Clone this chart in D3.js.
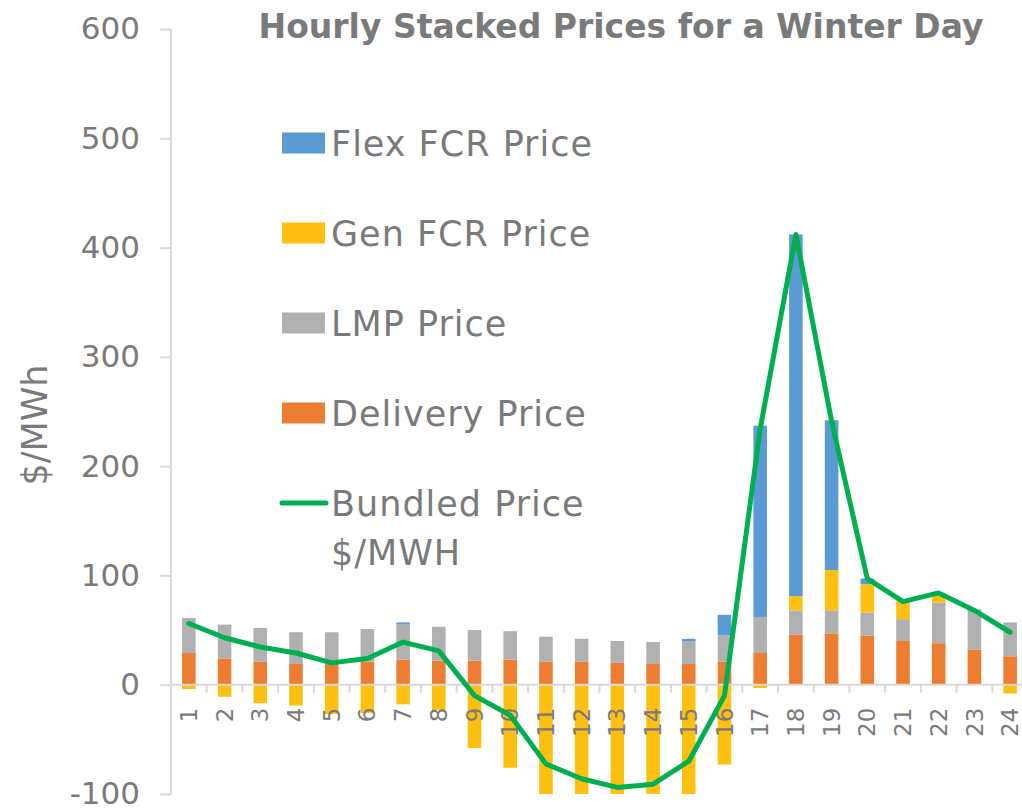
<!DOCTYPE html>
<html>
<head>
    <script src="https://d3js.org/d3.v7.min.js" charset="utf-8"></script>
    <style type="text/css">
        body { margin: 0; background: #fff; }
        text { font-family: "DejaVu Sans", sans-serif; fill: #7a7a7a; }
        .axis path, .axis line { stroke: #d9d9d9; stroke-width: 2px; }
    </style>
</head>
<body>

<svg height="810" width="1022"></svg>

<script>
    // hours of the day
    var hours = ["1","2","3","4","5","6","7","8","9","10","11","12","13","14","15","16","17","18","19","20","21","22","23","24"];

    var delivery = [29,24,21,19,19,21,23,22,22,23,21,21,20,19,19,21,29,46,47,45,40,38,32,26];
    var lmp      = [32,31,31,29,29,30,32,31,28,26,23,21,20,20,21,24,33,22,21,21,20,37,37,31];
    var genFcr   = [-4,-11,-17,-19,-27,-26,-18,-23,-58,-76,-117,-127,-134,-130,-112,-73,-3,13,37,26,17,8,0,-8];
    var flexFcr  = [0,0,0,0,0,0,2,0,0,0,0,0,0,0,2,19,175,331,137,5,0,0,0,0];
    var bundled  = [56,43,34.5,29,20,24,39,31,-10,-28,-72.5,-86,-94,-91,-70,-10,234,412,241,97,76,84,68,48];

    var yTicks = [-100,0,100,200,300,400,500,600];

    var keys = ["delivery","lmp","gen","flex"];
    var colors = {delivery:"#ed7d31", lmp:"#b0b0b0", gen:"#fdc010", flex:"#5b9bd5"};

    var rows = hours.map(function(h, i) {
        return {hour: h, delivery: delivery[i], lmp: lmp[i], gen: genFcr[i], flex: flexFcr[i]};
    });

    var svg = d3.select("svg");

    var x = d3.scaleBand()
        .domain(hours)
        .range([171, 1028])
        .paddingInner(0.62)
        .paddingOuter(0.31);

    var y = d3.scaleLinear()
        .domain([-100, 600])
        .range([794, 29]);

    svg.append("defs").append("clipPath").attr("id", "plot")
        .append("rect")
        .attr("x", 171).attr("y", y(600))
        .attr("width", 900).attr("height", y(-100) - y(600));

    // y axis
    var yAxis = svg.append("g")
        .attr("class", "axis")
        .attr("transform", "translate(171,0)")
        .call(d3.axisLeft(y).tickValues(yTicks).tickSize(11).tickPadding(20)
            .tickFormat(function(d) { return String(d); }));
    yAxis.select(".domain").attr("d", "M0," + y(600) + "V" + y(-100));
    yAxis.selectAll("text").style("font-size", "31px").attr("fill", "#808080");

    svg.append("text")
        .attr("transform", "translate(47,425) rotate(-90)")
        .attr("text-anchor", "middle")
        .style("font-size", "35px")
        .text("$/MWh");

    // stacked bars
    var series = d3.stack().keys(keys).offset(d3.stackOffsetDiverging)(rows);

    var barsG = svg.append("g").attr("clip-path", "url(#plot)");
    barsG.selectAll("g")
        .data(series)
        .enter()
        .append("g")
        .attr("fill", function(s) { return colors[s.key]; })
        .selectAll("rect")
        .data(function(s) { return s; })
        .enter()
        .append("rect")
        .attr("x", function(d) { return x(d.data.hour); })
        .attr("width", x.bandwidth())
        .attr("y", function(d) { return y(Math.max(d[0], d[1])); })
        .attr("height", function(d) { return Math.abs(y(d[0]) - y(d[1])); });

    // x axis at zero
    var xAxis = svg.append("g")
        .attr("class", "axis")
        .attr("transform", "translate(0," + y(0) + ")")
        .call(d3.axisBottom(x).tickSize(0).tickPadding(0));
    xAxis.select(".domain").attr("d", "M171,0H1022");
    xAxis.selectAll(".tick text")
        .attr("y", 0).attr("dy", "0.35em")
        .attr("transform", "translate(0,23) rotate(-90)")
        .attr("text-anchor", "end")
        .attr("fill", "#808080")
        .style("font-size", "23px");

    var step = x.step();
    xAxis.selectAll(".bnd")
        .data(hours)
        .enter()
        .append("line")
        .attr("x1", function(d) { return x(d) + x.bandwidth() / 2 + step / 2; })
        .attr("x2", function(d) { return x(d) + x.bandwidth() / 2 + step / 2; })
        .attr("y1", 0).attr("y2", 8)
        .attr("stroke", "#d9d9d9").attr("stroke-width", 2);

    // bundled price line
    var line = d3.line()
        .x(function(d, i) { return x(hours[i]) + x.bandwidth() / 2; })
        .y(function(d) { return y(d); });

    svg.append("path")
        .datum(bundled)
        .attr("fill", "none")
        .attr("stroke", "#00b050")
        .attr("stroke-width", 5)
        .attr("stroke-linejoin", "round")
        .attr("stroke-linecap", "round")
        .attr("d", line);

    // title
    svg.append("text")
        .attr("x", 621).attr("y", 38)
        .attr("text-anchor", "middle")
        .style("font-size", "33px")
        .style("font-weight", "bold")
        .text("Hourly Stacked Prices for a Winter Day");

    // legend
    var legendItems = [
        {label: "Flex FCR Price", color: colors.flex, cy: 143},
        {label: "Gen FCR Price", color: colors.gen, cy: 233},
        {label: "LMP Price", color: colors.lmp, cy: 323},
        {label: "Delivery Price", color: colors.delivery, cy: 413}
    ];
    var lg = svg.append("g").style("font-size", "35px").style("letter-spacing", "1px");
    legendItems.forEach(function(it) {
        lg.append("rect")
            .attr("x", 282).attr("y", it.cy - 10.5)
            .attr("width", 43).attr("height", 21)
            .attr("fill", it.color);
        lg.append("text")
            .attr("x", 331).attr("y", it.cy + 13)
            .text(it.label);
    });
    lg.append("line")
        .attr("x1", 282).attr("x2", 326)
        .attr("y1", 503).attr("y2", 503)
        .attr("stroke", "#00b050").attr("stroke-width", 5)
        .attr("stroke-linecap", "round");
    lg.append("text")
        .attr("x", 331).attr("y", 516)
        .text("Bundled Price");
    lg.append("text")
        .attr("x", 331).attr("y", 565)
        .text("$/MWH");
</script>
</body>
</html>
